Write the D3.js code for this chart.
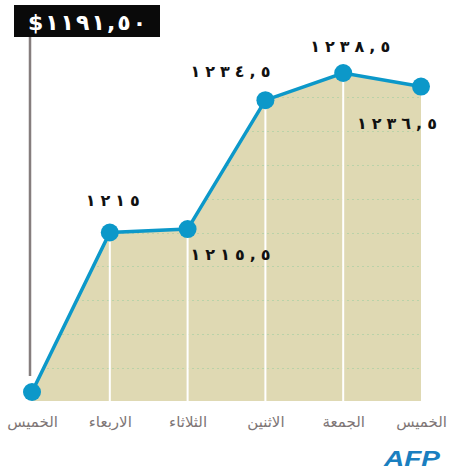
<!DOCTYPE html>
<html>
<head>
<meta charset="utf-8">
<script src="https://cdn.jsdelivr.net/npm/d3@7"></script>
<style>
  body { margin: 0; background: #fff; }
  svg { display: block; }
</style>
</head>
<body>
<svg></svg>
<script>
// データ
var days = ["الخميس", "الاربعاء", "الثلاثاء", "الاثنين", "الجمعة", "الخميس"];
var prices = [1191.5, 1215, 1215.5, 1234.5, 1238.5, 1236.5];
var priceLabels = ["", "١٢١٥", "١٢١٥,٥", "١٢٣٤,٥", "١٢٣٨,٥", "١٢٣٦,٥"];
var headerLabel = "$١١٩١,٥٠";

var width = 461, height = 471;
var blue = "#0c98c9";
var baseY = 401; // 塗りの下端

var svg = d3.select("svg").attr("width", width).attr("height", height);

var xScale = d3.scalePoint()
    .domain(d3.range(days.length))
    .range([32, 421]);

var yScale = d3.scaleLinear()
    .domain([1191.5, 1238.5])
    .range([392, 73]);

var data = prices.map(function(p, i) { return {i: i, v: p, label: priceLabels[i]}; });

// アラビア数字は letter-spacing が効かないので textLength で広げる
function spread(sel, gap) {
    sel.each(function() {
        var w = this.getComputedTextLength();
        var n = this.textContent.length;
        d3.select(this)
            .attr("textLength", w + gap * (n - 1))
            .attr("lengthAdjust", "spacing");
    });
}

// 塗り
var area = d3.area()
    .x(function(d) { return xScale(d.i); })
    .y0(baseY)
    .y1(function(d) { return yScale(d.v); });

svg.append("clipPath").attr("id", "clip")
  .append("path").attr("d", area(data));

svg.append("path")
    .attr("d", area(data))
    .attr("fill", "#dfd9b3");

// 点線のグリッド (うすく)
svg.append("g")
    .attr("clip-path", "url(#clip)")
    .selectAll("line")
    .data(yScale.ticks(12))
    .enter()
    .append("line")
    .attr("x1", 32).attr("x2", 421)
    .attr("y1", function(d) { return Math.round(yScale(d)) + 0.5; })
    .attr("y2", function(d) { return Math.round(yScale(d)) + 0.5; })
    .attr("stroke", "#a9cfa6")
    .attr("stroke-width", 1)
    .attr("stroke-dasharray", "2,3")
    .attr("opacity", 0.7);

// 白い縦線
svg.append("g")
    .selectAll("line")
    .data(data.slice(1, -1))
    .enter()
    .append("line")
    .attr("x1", function(d) { return xScale(d.i); })
    .attr("x2", function(d) { return xScale(d.i); })
    .attr("y1", function(d) { return yScale(d.v); })
    .attr("y2", baseY)
    .attr("stroke", "#fff")
    .attr("stroke-width", 2);

// 灰色の縦線
svg.append("line")
    .attr("x1", 30).attr("x2", 30)
    .attr("y1", 36).attr("y2", 376)
    .attr("stroke", "#857d7d")
    .attr("stroke-width", 2.5);

// 折れ線
var line = d3.line()
    .x(function(d) { return xScale(d.i); })
    .y(function(d) { return yScale(d.v); });

svg.append("path")
    .attr("d", line(data))
    .attr("fill", "none")
    .attr("stroke", blue)
    .attr("stroke-width", 3.5);

svg.append("g")
    .selectAll("circle")
    .data(data)
    .enter()
    .append("circle")
    .attr("cx", function(d) { return xScale(d.i); })
    .attr("cy", function(d) { return yScale(d.v); })
    .attr("r", 9)
    .attr("fill", blue);

// 値ラベル
var labelPos = [
    null,
    {dx: 3, dy: -27, anchor: "middle"},
    {dx: 3, dy: 31, anchor: "start"},
    {dx: 5, dy: -23, anchor: "end"},
    {dx: 7, dy: -21, anchor: "middle"},
    {dx: -24, dy: 42, anchor: "middle"}
];

svg.append("g")
    .selectAll("text")
    .data(data.filter(function(d) { return d.label; }))
    .enter()
    .append("text")
    .attr("x", function(d) { return xScale(d.i) + labelPos[d.i].dx; })
    .attr("y", function(d) { return yScale(d.v) + labelPos[d.i].dy; })
    .attr("text-anchor", function(d) { return labelPos[d.i].anchor; })
    .attr("direction", "ltr")
    .style("font-family", "DejaVu Sans")
    .style("font-size", "16px")
    .style("font-weight", "bold")
    .attr("fill", "#111")
    .text(function(d) { return d.label; })
    .call(spread, 5);

// 見出し
svg.append("rect")
    .attr("x", 14).attr("y", 5)
    .attr("width", 146).attr("height", 32)
    .attr("fill", "#0a0a0a");

svg.append("text")
    .attr("x", 87).attr("y", 30)
    .attr("text-anchor", "middle")
    .attr("direction", "ltr")
    .style("font-family", "DejaVu Sans")
    .style("font-size", "22px")
    .style("font-weight", "bold")
    .attr("fill", "#fff")
    .text(headerLabel)
    .call(spread, 2);

// X軸
svg.append("g")
    .attr("transform", "translate(0," + 410 + ")")
    .call(d3.axisBottom(xScale).tickSize(0).tickFormat(function(i) { return days[i]; }))
    .call(function(g) { g.select(".domain").remove(); })
    .selectAll("text")
    .attr("dy", "0.9em")
    .style("font-family", "DejaVu Sans")
    .style("font-size", "15px")
    .attr("fill", "#7e7676");

// AFP
svg.append("text")
    .attr("x", 384).attr("y", 466)
    .attr("textLength", 56)
    .attr("lengthAdjust", "spacingAndGlyphs")
    .style("font-family", "Liberation Sans")
    .style("font-size", "22px")
    .style("font-weight", "bold")
    .style("font-style", "italic")
    .attr("fill", "#1a7fc0")
    .text("AFP");
</script>
</body>
</html>
